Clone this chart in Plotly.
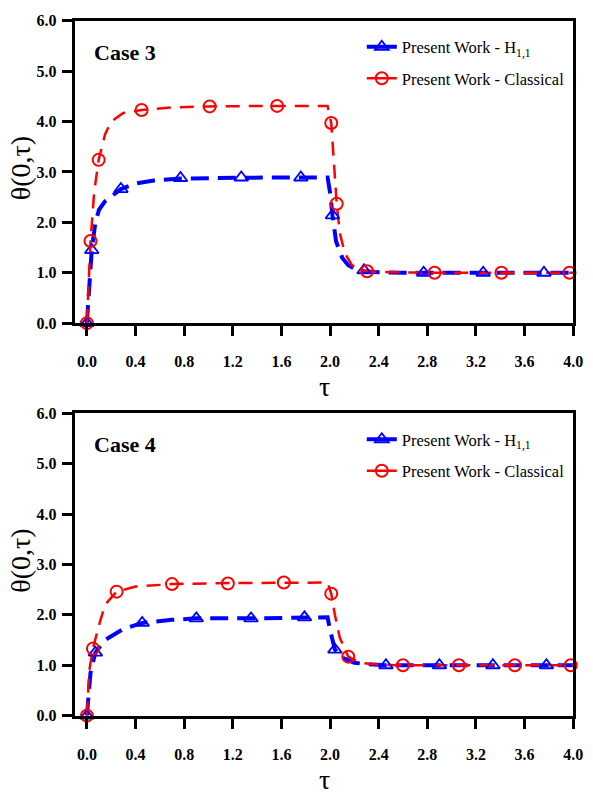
import plotly.graph_objects as go

# ---------------- Data ----------------
# Case 3 - smooth curves
c3_h_tau = [0, 0.02, 0.04, 0.07, 0.10, 0.15, 0.28, 0.40, 0.55, 0.77, 1.0, 1.5, 1.98, 2.0, 2.02, 2.05, 2.10, 2.15, 2.22, 2.28, 2.40, 2.60, 4.0]
c3_h_val = [0, 0.80, 1.45, 2.00, 2.25, 2.42, 2.66, 2.77, 2.83, 2.87, 2.88, 2.89, 2.89, 2.60, 2.14, 1.62, 1.30, 1.15, 1.06, 1.03, 1.01, 1.00, 1.00]
c3_c_tau = [0, 0.02, 0.03, 0.06, 0.097, 0.15, 0.20, 0.30, 0.45, 0.70, 1.0, 1.5, 1.98, 2.01, 2.035, 2.055, 2.08, 2.12, 2.18, 2.25, 2.305, 2.50, 2.86, 4.0]
c3_c_val = [0, 1.00, 1.63, 2.60, 3.24, 3.75, 4.00, 4.17, 4.23, 4.28, 4.30, 4.31, 4.31, 3.97, 3.10, 2.37, 1.80, 1.40, 1.15, 1.06, 1.03, 1.01, 1.00, 1.00]
# Case 3 - markers
c3_hm_tau = [0, 0.04, 0.28, 0.77, 1.27, 1.76, 2.02, 2.28, 2.77, 3.26, 3.76]
c3_hm_val = [0, 1.45, 2.66, 2.88, 2.89, 2.89, 2.14, 1.05, 1.00, 1.00, 1.00]
c3_cm_tau = [0, 0.03, 0.097, 0.45, 1.01, 1.565, 2.01, 2.055, 2.305, 2.86, 3.41, 3.97]
c3_cm_val = [0, 1.63, 3.24, 4.23, 4.30, 4.31, 3.97, 2.37, 1.03, 1.00, 1.00, 1.00]

# Case 4 - smooth curves
c4_h_tau = [0, 0.03, 0.07, 0.15, 0.30, 0.455, 0.70, 0.90, 1.35, 1.79, 1.98, 2.0, 2.04, 2.10, 2.20, 2.30, 2.46, 4.0]
c4_h_val = [0, 0.85, 1.25, 1.50, 1.72, 1.84, 1.90, 1.93, 1.93, 1.95, 1.95, 1.70, 1.31, 1.15, 1.05, 1.02, 1.00, 1.00]
c4_c_tau = [0, 0.02, 0.05, 0.10, 0.15, 0.245, 0.40, 0.70, 1.16, 1.62, 1.98, 2.01, 2.04, 2.08, 2.15, 2.25, 2.40, 2.60, 4.0]
c4_c_val = [0, 0.90, 1.33, 1.80, 2.20, 2.46, 2.56, 2.61, 2.63, 2.64, 2.64, 2.42, 2.00, 1.55, 1.17, 1.05, 1.01, 1.00, 1.00]
# Case 4 - markers
c4_hm_tau = [0, 0.07, 0.455, 0.90, 1.35, 1.79, 2.04, 2.46, 2.90, 3.34, 3.78]
c4_hm_val = [0, 1.25, 1.84, 1.93, 1.93, 1.95, 1.31, 1.00, 1.00, 1.00, 1.00]
c4_cm_tau = [0, 0.05, 0.245, 0.70, 1.16, 1.62, 2.01, 2.15, 2.60, 3.06, 3.52, 3.98]
c4_cm_val = [0, 1.33, 2.46, 2.61, 2.62, 2.64, 2.42, 1.17, 1.00, 1.00, 1.00, 1.00]

x_ticks = [0.0, 0.4, 0.8, 1.2, 1.6, 2.0, 2.4, 2.8, 3.2, 3.6, 4.0]
y_ticks = [0.0, 1.0, 2.0, 3.0, 4.0, 5.0, 6.0]
series_names = ["Present Work - H<sub>1,1</sub>", "Present Work - Classical"]
case_labels = ["Case 3", "Case 4"]

BLUE = "#0000FF"
RED = "#FF0000"
SERIF = "Liberation Serif"
W, H = 593, 800

fig = go.Figure()

panels = [
    ("x", "y", "legend", c3_h_tau, c3_h_val, c3_c_tau, c3_c_val, c3_hm_tau, c3_hm_val, c3_cm_tau, c3_cm_val),
    ("x2", "y2", "legend2", c4_h_tau, c4_h_val, c4_c_tau, c4_c_val, c4_hm_tau, c4_hm_val, c4_cm_tau, c4_cm_val),
]

blue_line = dict(color=BLUE, width=4, dash="18px,9px")
red_line = dict(color=RED, width=2.5, dash="14px,9px")
blue_marker = dict(symbol="triangle-up-open", size=12, color=BLUE, line=dict(color=BLUE, width=1.8))
red_marker = dict(symbol="circle-open", size=12, color=RED, line=dict(color=RED, width=2))

for (xa, ya, lg, ht, hv, ct, cv, hmt, hmv, cmt, cmv) in panels:
    fig.add_trace(go.Scatter(x=ht, y=hv, mode="lines", line=blue_line, xaxis=xa, yaxis=ya, showlegend=False))
    fig.add_trace(go.Scatter(x=ct, y=cv, mode="lines", line=red_line, xaxis=xa, yaxis=ya, showlegend=False))
    fig.add_trace(go.Scatter(x=hmt, y=hmv, mode="markers", marker=blue_marker, xaxis=xa, yaxis=ya, showlegend=False, cliponaxis=False))
    fig.add_trace(go.Scatter(x=cmt, y=cmv, mode="markers", marker=red_marker, xaxis=xa, yaxis=ya, showlegend=False, cliponaxis=False))
    # legend entries
    fig.add_trace(go.Scatter(x=[None], y=[None], mode="lines+markers", name=series_names[0],
                             line=dict(color=BLUE, width=4), marker=blue_marker,
                             xaxis=xa, yaxis=ya, legend=lg, legendgroup=lg + "a"))
    fig.add_trace(go.Scatter(x=[None], y=[None], mode="lines+markers", name=series_names[1],
                             line=dict(color=RED, width=2.5), marker=red_marker,
                             xaxis=xa, yaxis=ya, legend=lg, legendgroup=lg + "b"))

x_dom = [76 / W, 583 / W]
top_dom = [1 - 322 / H, 1 - 13 / H]
bot_dom = [1 - 723 / H, 1 - 414 / H]

tickfont = dict(family=SERIF, size=16, color="black", weight="bold")
ax_common = dict(showline=True, linecolor="black", linewidth=3, mirror=True,
                 ticks="outside", ticklen=10, tickwidth=2.5, tickcolor="black",
                 showgrid=False, zeroline=False, tickfont=tickfont)

xaxis_cfg = dict(ax_common, range=[-0.1, 4.0], tickvals=x_ticks,
                 ticktext=[f"{v:.1f}" for v in x_ticks], domain=x_dom,
                 ticklabelstandoff=12)
yaxis_cfg = dict(ax_common, range=[0, 6.0], tickvals=y_ticks,
                 ticktext=[f"{v:.1f}" for v in y_ticks], ticklabelstandoff=2)

legend_cfg = dict(font=dict(family=SERIF, size=16.5, color="black"), bgcolor="rgba(0,0,0,0)",
                  xanchor="left", yanchor="top", tracegroupgap=7, itemwidth=30)

fig.update_layout(
    width=W, height=H, margin=dict(l=0, r=0, t=0, b=0),
    paper_bgcolor="white", plot_bgcolor="white",
    xaxis=dict(xaxis_cfg, anchor="y"),
    yaxis=dict(yaxis_cfg, domain=top_dom, anchor="x"),
    xaxis2=dict(xaxis_cfg, anchor="y2"),
    yaxis2=dict(yaxis_cfg, domain=bot_dom, anchor="x2"),
    legend=dict(legend_cfg, x=368 / W, y=1 - 22 / H),
    legend2=dict(legend_cfg, x=368 / W, y=1 - 423 / H),
)

annotations = []
for i, (dom, lab) in enumerate([(top_dom, case_labels[0]), (bot_dom, case_labels[1])]):
    top_px = (1 - dom[1]) * H
    bot_px = (1 - dom[0]) * H
    annotations.append(dict(text=f"<b>{lab}</b>", x=94 / W, y=1 - (top_px + 32) / H,
                            xref="paper", yref="paper", xanchor="left", yanchor="middle",
                            showarrow=False, font=dict(family=SERIF, size=22, color="black")))
    annotations.append(dict(text="θ(0,τ)", x=21 / W, y=1 - (top_px + 151) / H,
                            xref="paper", yref="paper", xanchor="center", yanchor="middle",
                            textangle=-90, showarrow=False,
                            font=dict(family=SERIF, size=28, color="black")))
    annotations.append(dict(text="τ", x=330 / W, y=1 - (bot_px + 65) / H,
                            xref="paper", yref="paper", xanchor="center", yanchor="middle",
                            showarrow=False, font=dict(family=SERIF, size=28, color="black")))
fig.update_layout(annotations=annotations)

fig.write_html("out.html")
